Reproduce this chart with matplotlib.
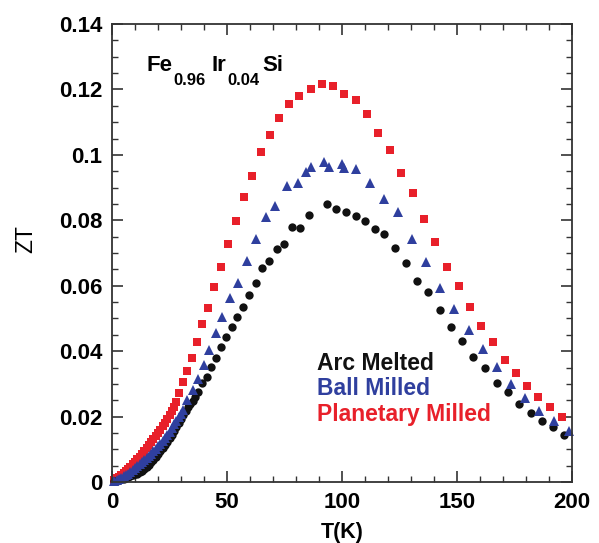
import matplotlib
matplotlib.use("Agg")
import matplotlib.pyplot as plt
from matplotlib.ticker import MultipleLocator

plt.rcParams['font.family'] = ['Liberation Sans', 'DejaVu Sans']

# Planetary Milled (red squares)
t_planetary = [1, 2, 3, 4, 5, 6, 7, 8, 9, 10, 11, 12, 13, 14, 15, 16, 17, 18, 19, 20,
               21, 22, 23, 24, 25, 26, 27, 28,
               29.1, 30.9, 32.6, 34.8, 37.0, 39.1, 41.7, 44.3, 47.4, 50.4, 53.9, 57.4,
               60.9, 64.8, 68.7, 72.6, 77.0, 81.3, 86.5, 91.3, 96.1, 100.9, 106.1, 110.9,
               115.7, 120.9, 125.7, 130.9, 135.7, 140.4, 145.7, 150.9, 155.7, 160.4, 165.7,
               170.9, 175.7, 180.4, 185.2, 190.4, 195.7]
zt_planetary = [0.0007, 0.0011, 0.0016, 0.0021, 0.0027, 0.0033, 0.0040, 0.0047, 0.0054, 0.0062,
                0.0070, 0.0078, 0.0086, 0.0094, 0.0103, 0.0112, 0.0121, 0.0130, 0.0140, 0.0150,
                0.0160, 0.0170, 0.0181, 0.0192, 0.0204, 0.0216, 0.0229, 0.0245,
                0.0272, 0.0306, 0.0339, 0.0379, 0.0428, 0.0483, 0.0532, 0.0596, 0.0657, 0.0728,
                0.0798, 0.0871, 0.0935, 0.1009, 0.1061, 0.1113, 0.1156, 0.1180, 0.1201, 0.1217,
                0.1211, 0.1186, 0.1168, 0.1125, 0.1067, 0.1015, 0.0945, 0.0884, 0.0804, 0.0734,
                0.0657, 0.0599, 0.0535, 0.0477, 0.0428, 0.0373, 0.0333, 0.0293, 0.0260, 0.0229,
                0.0199]

# Ball Milled (blue triangles)
t_ball = [1, 2, 3, 4, 5, 6, 7, 8, 9, 10, 11, 12, 13, 14, 15, 16, 17, 18, 19, 20,
          21, 22, 23, 24, 25, 26, 27, 28, 29, 30,
          30.9, 32.6, 35.2, 37.4, 40.0, 42.2, 45.2, 47.8, 51.3, 54.8, 58.7, 62.6, 67.0,
          70.9, 76.1, 80.9, 84.3, 86.5, 92.2, 94.3, 100.0, 100.9, 106.1, 112.2, 118.3,
          124.3, 130.4, 136.5, 142.6, 148.7, 155.2, 161.3, 167.4, 173.5, 179.6, 185.7,
          192.2, 198.7]
zt_ball = [0.0003, 0.0006, 0.0009, 0.0013, 0.0017, 0.0021, 0.0026, 0.0031, 0.0036, 0.0042,
           0.0048, 0.0054, 0.0060, 0.0066, 0.0073, 0.0080, 0.0087, 0.0094, 0.0101, 0.0109,
           0.0117, 0.0125, 0.0134, 0.0144, 0.0154, 0.0165, 0.0176, 0.0187, 0.0198, 0.0209,
           0.0220, 0.0251, 0.0281, 0.0315, 0.0358, 0.0404, 0.0456, 0.0504, 0.0563, 0.0608,
           0.0676, 0.0743, 0.0810, 0.0844, 0.0905, 0.0914, 0.0948, 0.0963, 0.0978, 0.0963,
           0.0972, 0.0960, 0.0957, 0.0914, 0.0865, 0.0825, 0.0743, 0.0673, 0.0593, 0.0529,
           0.0465, 0.0407, 0.0352, 0.0300, 0.0257, 0.0217, 0.0187, 0.0156]

# Arc Melted (black circles)
t_arc = [1, 2, 3, 4, 5, 6, 7, 8, 9, 10, 11, 12, 13, 14, 15, 16, 17, 18, 19, 20,
         21, 22, 23, 24, 25, 26, 27, 28, 29, 30, 31, 32, 33, 34, 35, 36,
         37.4, 39.1, 41.3, 43.0, 45.2, 47.4, 49.6, 52.2, 54.3, 57.0, 59.6, 62.6, 65.2,
         68.3, 71.7, 74.8, 78.3, 81.7, 85.7, 93.5, 97.4, 101.7, 106.1, 110.0, 114.3,
         118.3, 123.0, 127.8, 132.6, 137.4, 142.6, 147.4, 152.2, 157.0, 162.2, 167.4,
         172.2, 177.0, 182.2, 187.0, 191.7, 196.5]
zt_arc = [0.0002, 0.0004, 0.0006, 0.0008, 0.0010, 0.0012, 0.0014, 0.0017, 0.0020, 0.0023,
          0.0026, 0.0030, 0.0035, 0.0040, 0.0046, 0.0052, 0.0060, 0.0068, 0.0077, 0.0086,
          0.0095, 0.0103, 0.0113, 0.0123, 0.0134, 0.0145, 0.0156, 0.0168, 0.0180, 0.0192,
          0.0204, 0.0216, 0.0228, 0.0239, 0.0249, 0.0260,
          0.0275, 0.0303, 0.0321, 0.0352, 0.0379, 0.0413, 0.0443, 0.0474, 0.0504, 0.0535,
          0.0572, 0.0608, 0.0654, 0.0676, 0.0712, 0.0728, 0.0780, 0.0777, 0.0816, 0.0850,
          0.0835, 0.0825, 0.0813, 0.0798, 0.0773, 0.0758, 0.0715, 0.0670, 0.0614, 0.0581,
          0.0526, 0.0474, 0.0431, 0.0382, 0.0349, 0.0303, 0.0275, 0.0238, 0.0211, 0.0186,
          0.0168, 0.0144]

labels = ['Arc Melted', 'Ball Milled', 'Planetary Milled']
colors = ['#111111', '#2f3f9e', '#e8202a']

# formula pieces: (text, is subscript)
formula = [('Fe', False), ('0.96', True), ('Ir', False), ('0.04', True), ('Si', False)]
formula_x = [0.074, 0.133, 0.217, 0.250, 0.326]

fig = plt.figure(figsize=(5.99, 5.43), dpi=100)
ax = fig.add_axes([0.187, 0.1123, 0.768, 0.8435])

ax.plot(t_planetary, zt_planetary, 's', color=colors[2], ms=6.3, mew=0, clip_on=False)
ax.plot(t_arc, zt_arc, 'o', color=colors[0], ms=6.0, mew=0, clip_on=False)
ax.plot(t_ball, zt_ball, '^', color=colors[1], ms=6.6, mew=0, clip_on=False)

ax.set_xlim(0, 200)
ax.set_ylim(0, 0.14)
ax.xaxis.set_major_locator(MultipleLocator(50))
ax.xaxis.set_minor_locator(MultipleLocator(10))
ax.yaxis.set_minor_locator(MultipleLocator(0.005))
ax.set_yticks([0, 0.02, 0.04, 0.06, 0.08, 0.1, 0.12, 0.14])
ax.set_yticklabels(['0', '0.02', '0.04', '0.06', '0.08', '0.1', '0.12', '0.14'])

for s in ax.spines.values():
    s.set_linewidth(1.3)
    s.set_color('#333333')
ax.tick_params(which='both', direction='in', top=True, right=True, color='#333333')
ax.tick_params(which='major', length=8, width=1.2, labelsize=16, pad=7)
ax.tick_params(which='minor', length=4.5, width=1.0)
for lab in ax.get_xticklabels() + ax.get_yticklabels():
    lab.set_fontweight('bold')

ax.set_xlabel('T(K)', fontsize=15.5, fontweight='bold', labelpad=7)
ax.set_ylabel('ZT', fontsize=16.5)
ax.yaxis.set_label_coords(-0.163, 0.53)

for (piece, sub), x in zip(formula, formula_x):
    ax.text(x, 0.8668 if sub else 0.8974, piece, transform=ax.transAxes,
            fontsize=12 if sub else 16, fontweight='bold', va='baseline', ha='left')

for i, (lab, c) in enumerate(zip(labels, colors)):
    ax.text(0.446, 0.2445 - i * 0.0555, lab, transform=ax.transAxes, color=c,
            fontsize=16.5, fontweight='bold', va='baseline', ha='left')

fig.savefig('out.png', dpi=100)
